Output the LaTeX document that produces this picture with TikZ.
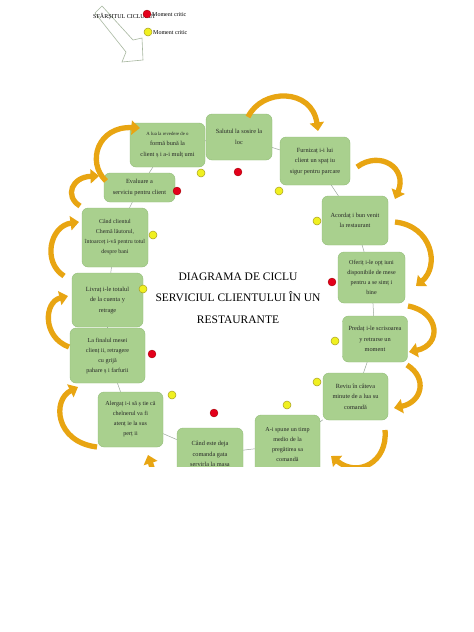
\documentclass[tikz,border=0pt]{standalone}
\usepackage{fontspec}
\setmainfont{Liberation Serif}
\usetikzlibrary{arrows.meta}
\definecolor{boxfill}{HTML}{A9D08E}
\definecolor{boxline}{HTML}{93BD78}
\definecolor{connc}{HTML}{9AA89A}
\definecolor{orangeA}{HTML}{E8A512}
\definecolor{redd}{HTML}{E3001B}
\definecolor{yell}{HTML}{F0F020}
\definecolor{yelld}{HTML}{A8A020}
\definecolor{legarrow}{HTML}{A8B8A0}
\tikzset{
  box/.style={rectangle, rounded corners=6pt, fill=boxfill, draw=boxline, line width=0.4pt,
    align=center, font=\fontsize{6.3}{10.5}\selectfont, inner sep=2pt, text=black!85},
  conn/.style={draw=connc, line width=0.5pt},
  oarr/.style={draw=orangeA, line width=5.3pt, -{Triangle[length=8.5pt,width=14pt]}},
  reddot/.style={circle, fill=redd, draw=red!60!black, line width=0.3pt, minimum size=8pt, inner sep=0pt},
  yeldot/.style={circle, fill=yell, draw=yelld, line width=0.5pt, minimum size=8pt, inner sep=0pt},
  small/.style={font=\fontsize{6}{7}\selectfont, inner sep=0pt}
}
\begin{document}
\begin{tikzpicture}[x=1pt,y=-1pt]
\useasboundingbox (0,0) rectangle (474,632);
\fill[white] (0,0) rectangle (474,632);
\begin{scope}
\clip (0,0) rectangle (474,466);
% legend
\draw[legarrow, line width=0.6pt, fill=white] (95,13) -- (102,6) -- (133,40) -- (142,38) -- (143,60) -- (122,62) -- (126,52) -- cycle;
\node[small, anchor=center] (endc) at (124,17) {SFÂRȘITUL CICLULUI};
\node[reddot] (lr) at (147,14) {};
\node[yeldot] (ly) at (148,32) {};
\node[small, anchor=west] (lrt) at (152,15) {Moment critic};
\node[small, anchor=west] (lyt) at (153,33) {Moment critic};

% title
\node[align=center, font=\fontsize{11.5}{21.5}\selectfont, inner sep=0pt] (title) at (238,298)
  {DIAGRAMA DE CICLU\\SERVICIUL CLIENTULUI ÎN UN\\RESTAURANTE};

% boxes
\node[box, minimum width=75pt, minimum height=44pt] (b1) at (167.5,145)
  {{\fontsize{4.8}{6}\selectfont A lua la revedere de o}\\formă bună la\\client ș i a-i mulț umi};
\node[box, minimum width=66pt, minimum height=46pt] (b2) at (239,137)
  {Salutul la sosire la\\loc};
\node[box, minimum width=70pt, minimum height=48pt] (b3) at (315,161)
  {Furnizaț i-i lui\\client un spaț iu\\sigur pentru parcare};
\node[box, minimum width=66pt, minimum height=49pt] (b4) at (355,220.5)
  {Acordaț i bun venit\\la restaurant};
\node[box, minimum width=67pt, minimum height=51pt, font=\fontsize{6.1}{10}\selectfont] (b5) at (371.5,277.5)
  {Oferiț i-le opț iuni\\disponibile de mese\\pentru a se simț i\\bine};
\node[box, minimum width=65pt, minimum height=46pt] (b6) at (375,339)
  {Predaț i-le scrisoarea\\y retrarse un\\moment};
\node[box, minimum width=65pt, minimum height=47pt] (b7) at (355.5,396.5)
  {Reviu în câteva\\minute de a lua su\\comandă};
\node[box, minimum width=65pt, minimum height=60pt, font=\fontsize{6.1}{10}\selectfont] (b8) at (287.5,445)
  {A-i spune un timp\\medio de la\\pregătirea sa\\comandă};
\node[box, minimum width=66pt, minimum height=52pt] (b9) at (210,454)
  {Când este deja\\comanda gata\\servirla la masa};
\node[box, minimum width=65pt, minimum height=55pt, font=\fontsize{6.1}{10}\selectfont] (b10) at (130.5,419.5)
  {Alergaț i-i să ș tie că\\chelnerul va fi\\atenț ie la sus\\perț ii};
\node[box, minimum width=75pt, minimum height=55pt, font=\fontsize{6.1}{10}\selectfont] (b11) at (107.5,355.5)
  {La finalul mesei\\clienț ii, retragere\\cu grijă\\pahare ș i farfurii};
\node[box, minimum width=71pt, minimum height=54pt] (b12) at (107.5,300)
  {Livraț i-le totalul\\de la cuenta y\\retrage};
\node[box, minimum width=66pt, minimum height=59pt, font=\fontsize{5.9}{10}\selectfont] (b13) at (115,237.5)
  {Când clientul\\Chemă lăutorul,\\întoarceț i-vă pentru totul\\despre bani};
\node[box, minimum width=71pt, minimum height=29pt] (b14) at (139.5,187.5)
  {Evaluare a\\serviciu pentru client};

% connectors
\draw[conn] (b1) -- (b2);
\draw[conn] (b2) -- (b3);
\draw[conn] (b3) -- (b4);
\draw[conn] (b4) -- (b5);
\draw[conn] (b5) -- (b6);
\draw[conn] (b6) -- (b7);
\draw[conn] (b7) -- (b8);
\draw[conn] (b8) -- (b9);
\draw[conn] (b9) -- (b10);
\draw[conn] (b10) -- (b11);
\draw[conn] (b11) -- (b12);
\draw[conn] (b12) -- (b13);
\draw[conn] (b13) -- (b14);
\draw[conn] (b14) -- (b1);

% dots
\node[yeldot] (d1) at (201,173) {};
\node[reddot] (d2) at (238,172) {};
\node[reddot] (d3) at (177,191) {};
\node[yeldot] (d4) at (279,191) {};
\node[yeldot] (d5) at (153,235) {};
\node[yeldot] (d6) at (317,221) {};
\node[reddot] (d7) at (332,282) {};
\node[yeldot] (d8) at (143,289) {};
\node[reddot] (d9) at (152,354) {};
\node[yeldot] (d10) at (335,341) {};
\node[yeldot] (d11) at (317,382) {};
\node[yeldot] (d12) at (172,395) {};
\node[reddot] (d13) at (214,413) {};
\node[yeldot] (d14) at (287,405) {};

% curved arrows
\coordinate (a1s) at (248,117); \coordinate (a1e) at (318,131);
\draw[oarr] (a1s) .. controls (262,88) and (312,88) .. (a1e);
\coordinate (a2s) at (357,167); \coordinate (a2e) at (395,199);
\draw[oarr] (a2s) .. controls (380,150) and (408,168) .. (a2e);
\coordinate (a3s) at (395,222); \coordinate (a3e) at (416,286);
\draw[oarr] (a3s) .. controls (432,226) and (440,266) .. (a3e);
\coordinate (a4s) at (408,306); \coordinate (a4e) at (409,352);
\draw[oarr] (a4s) .. controls (440,312) and (442,345) .. (a4e);
\coordinate (a5s) at (407,365); \coordinate (a5e) at (394,408);
\draw[oarr] (a5s) .. controls (428,378) and (422,402) .. (a5e);
\coordinate (a6s) at (385,430); \coordinate (a6e) at (331,456);
\draw[oarr] (a6s) .. controls (388,462) and (358,478) .. (a6e);
\coordinate (a7s) at (156,480); \coordinate (a7e) at (148,455);
\draw[oarr] (a7s) -- (a7e);
\coordinate (a8s) at (97,447); \coordinate (a8e) at (78,387);
\draw[oarr] (a8s) .. controls (55,442) and (52,400) .. (a8e);
\coordinate (a9s) at (69,347); \coordinate (a9e) at (68,296);
\draw[oarr] (a9s) .. controls (42,337) and (44,302) .. (a9e);
\coordinate (a10s) at (64,276); \coordinate (a10e) at (79,222);
\draw[oarr] (a10s) .. controls (42,262) and (50,226) .. (a10e);
\coordinate (a11s) at (80,206); \coordinate (a11e) at (99,176);
\draw[oarr] (a11s) .. controls (64,196) and (72,177) .. (a11e);
\coordinate (a12s) at (106,181); \coordinate (a12e) at (140,128);
\draw[oarr] (a12s) .. controls (86,162) and (98,126) .. (a12e);
\end{scope}
\end{tikzpicture}
\end{document}
